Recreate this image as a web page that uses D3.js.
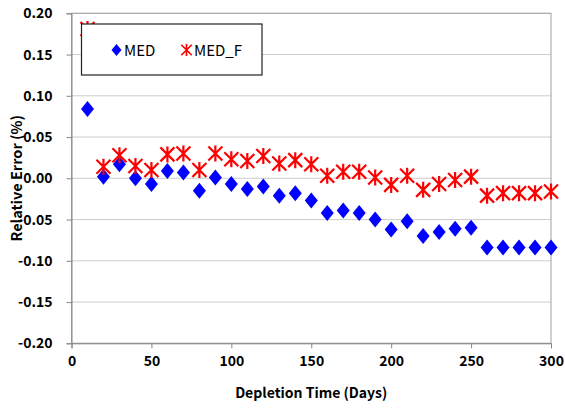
<!DOCTYPE html>
<html>
<head>
<meta charset="utf-8">
<script src="https://cdn.jsdelivr.net/npm/d3@7"></script>
<style>
  body { margin: 0; background: #fff; }
  svg { font-family: "Noto Sans CJK KR", "Noto Sans", sans-serif; }
</style>
</head>
<body>
<div id="chart"></div>
<script>
var days = [10, 20, 30, 40, 50, 60, 70, 80, 90, 100, 110, 120, 130, 140, 150,
  160, 170, 180, 190, 200, 210, 220, 230, 240, 250, 260, 270, 280, 290, 300];
var med = [0.084, 0.002, 0.017, 0.000, -0.007, 0.009, 0.007, -0.015, 0.001, -0.007,
  -0.013, -0.010, -0.021, -0.018, -0.027, -0.042, -0.039, -0.042, -0.050, -0.062,
  -0.052, -0.070, -0.065, -0.061, -0.060, -0.084, -0.084, -0.084, -0.084, -0.084];
var medF = [0.181, 0.014, 0.028, 0.015, 0.010, 0.029, 0.030, 0.010, 0.030, 0.023,
  0.021, 0.027, 0.018, 0.022, 0.017, 0.003, 0.008, 0.008, 0.001, -0.008,
  0.003, -0.014, -0.007, -0.002, 0.002, -0.021, -0.018, -0.018, -0.018, -0.016];
var xTicks = [0, 50, 100, 150, 200, 250, 300];
var yTicks = [-0.20, -0.15, -0.10, -0.05, 0.00, 0.05, 0.10, 0.15, 0.20];

var width = 565, height = 408;
var margin = {left: 71.5, right: 14, top: 13.3, bottom: 64.7};

var svg = d3.select('#chart').append('svg')
  .attr('width', width)
  .attr('height', height);

var x = d3.scaleLinear().domain([0, 300]).range([margin.left, width - margin.right]);
var y = d3.scaleLinear().domain([-0.2, 0.2]).range([height - margin.bottom, margin.top]);

// gridlines
svg.append('g')
  .selectAll('line')
  .data(yTicks)
  .enter().append('line')
  .attr('x1', x(0)).attr('x2', x(300))
  .attr('y1', function(d) { return y(d); })
  .attr('y2', function(d) { return y(d); })
  .style('stroke', '#9a9a9a')
  .style('stroke-dasharray', '1,1')
  .style('stroke-width', 1);

// plot border
svg.append('rect')
  .attr('x', x(0)).attr('y', y(0.2))
  .attr('width', x(300) - x(0))
  .attr('height', y(-0.2) - y(0.2))
  .style('fill', 'none')
  .style('stroke', '#a0a0a0')
  .style('stroke-width', 1);

// axes
var xAxis = svg.append('g')
  .attr('transform', 'translate(0,' + y(-0.2) + ')')
  .call(d3.axisBottom(x).tickValues(xTicks).tickSize(5).tickPadding(8));
var yAxis = svg.append('g')
  .attr('transform', 'translate(' + x(0) + ',0)')
  .call(d3.axisLeft(y).tickValues(yTicks).tickSize(5).tickPadding(14)
    .tickFormat(d3.format('.2f')));

[xAxis, yAxis].forEach(function(a) {
  a.select('.domain').style('stroke', '#888');
  a.selectAll('.tick line').style('stroke', '#888');
  a.selectAll('.tick text')
    .style('font-size', '14px')
    .style('font-weight', 'bold')
    .style('fill', '#000')
    .style('font-family', '"Noto Sans CJK KR", sans-serif');
});
yAxis.selectAll('.tick text').text(function(d) {
  return d3.format('.2f')(d).replace('−', '-');
});

// axis titles
svg.append('text')
  .attr('x', (x(0) + x(300)) / 2)
  .attr('y', 398)
  .attr('text-anchor', 'middle')
  .style('font-size', '14px')
  .style('font-weight', 'bold')
  .text('Depletion Time (Days)');

svg.append('text')
  .attr('transform', 'translate(22,' + y(0) + ') rotate(-90)')
  .attr('text-anchor', 'middle')
  .style('font-size', '14.5px')
  .style('font-weight', 'bold')
  .text('Relative Error (%)');

// MED diamonds
var diamond = 'M0,-8L6.5,0L0,8L-6.5,0Z';
svg.append('g')
  .selectAll('path')
  .data(days)
  .enter().append('path')
  .attr('d', diamond)
  .attr('transform', function(d, i) { return 'translate(' + x(d) + ',' + y(med[i]) + ')'; })
  .style('fill', '#0000ff');

// MED_F stars
function star(sel) {
  sel.append('path')
    .attr('d', 'M-7,-7L7,7M-7,7L7,-7M0,-8L0,8')
    .style('stroke', '#ff0000')
    .style('stroke-width', 2.2)
    .style('fill', 'none');
}
svg.append('g')
  .selectAll('g')
  .data(days)
  .enter().append('g')
  .attr('transform', function(d, i) { return 'translate(' + x(d) + ',' + y(medF[i]) + ')'; })
  .call(star);

// legend
var legend = svg.append('g');
legend.append('rect')
  .attr('x', 81.5).attr('y', 24)
  .attr('width', 180.5).attr('height', 51)
  .style('fill', '#fff')
  .style('stroke', '#222')
  .style('stroke-width', 1.2);
legend.append('path')
  .attr('d', 'M0,-6L5,0L0,6L-5,0Z')
  .attr('transform', 'translate(116.5,50)')
  .style('fill', '#0000ff');
legend.append('text')
  .attr('x', 124).attr('y', 55.5)
  .style('font-size', '15px')
  .text('MED');
legend.append('g')
  .attr('transform', 'translate(186.5,50) scale(0.75)')
  .call(star);
legend.append('text')
  .attr('x', 194).attr('y', 55.5)
  .style('font-size', '15px')
  .text('MED_F');
</script>
</body>
</html>
